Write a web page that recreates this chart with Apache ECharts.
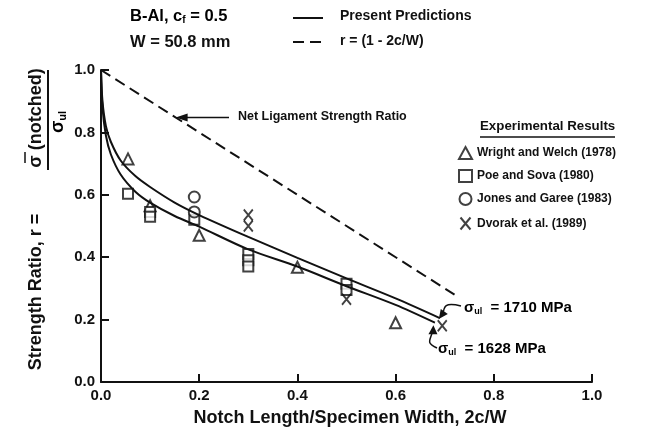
<!DOCTYPE html>
<html>
<head>
<meta charset="utf-8">
<title>Notch strength ratio</title>
<script src="https://cdn.jsdelivr.net/npm/echarts@6/dist/echarts.min.js"></script>
<style>body{margin:0;background:#fff}</style>
</head>
<body>
<div id="main" style="width:661px;height:432px;"></div>
<script>
// tick labels
var xTicks = [0, 0.2, 0.4, 0.6, 0.8, 1.0];
var yTicks = [0, 0.2, 0.4, 0.6, 0.8, 1.0];

// prediction curves, sigma_ul = 1710 and 1628 MPa
var curveX1710 = [0, 0.003, 0.01, 0.02, 0.04, 0.07, 0.1, 0.15, 0.2, 0.3, 0.4, 0.5, 0.6, 0.69];
var curveY1710 = [1.0, 0.9, 0.82, 0.77, 0.71, 0.66, 0.625, 0.575, 0.535, 0.465, 0.398, 0.332, 0.268, 0.205];
var curveX1628 = [0, 0.003, 0.01, 0.02, 0.04, 0.07, 0.1, 0.15, 0.2, 0.3, 0.4, 0.5, 0.6, 0.68];
var curveY1628 = [1.0, 0.88, 0.79, 0.73, 0.665, 0.61, 0.575, 0.532, 0.498, 0.425, 0.37, 0.307, 0.247, 0.19];

// net ligament line r = 1 - 2c/W
var netX = [0, 0.72];
var netY = [1.0, 0.28];

// experimental results
var wrightX = [0.055, 0.1, 0.2, 0.4, 0.6];
var wrightY = [0.715, 0.565, 0.47, 0.368, 0.19];
var poeX = [0.055, 0.1, 0.1, 0.19, 0.3, 0.3, 0.3, 0.5, 0.5];
var poeY = [0.603, 0.545, 0.53, 0.52, 0.41, 0.39, 0.37, 0.315, 0.295];
var jonesX = [0.19, 0.19];
var jonesY = [0.593, 0.545];
var dvorakX = [0.3, 0.3, 0.5, 0.695];
var dvorakY = [0.535, 0.5, 0.265, 0.18];

function pairs(xs, ys) { return xs.map(function (x, i) { return [x, ys[i]]; }); }

var FONT = 'Liberation Sans';
var black = '#111';

var chart = echarts.init(document.getElementById('main'));

var axisCommon = {
  type: 'value', min: 0, max: 1, interval: 0.2,
  axisLine: { show: true, lineStyle: { color: black, width: 2 } },
  axisTick: { show: true, inside: true, length: 8, lineStyle: { color: black, width: 2 } },
  splitLine: { show: false },
  axisLabel: { color: black, fontFamily: FONT, fontSize: 15, fontWeight: 'bold', margin: 6,
               formatter: function (v) { return v.toFixed(1); } }
};

var option = {
  animation: false,
  grid: { left: 101, right: 69, top: 70, bottom: 50 },
  xAxis: axisCommon,
  yAxis: axisCommon,
  legend: {
    // experimental results
    orient: 'vertical', left: 453, top: 141, itemGap: 9, itemWidth: 13, itemHeight: 12,
    data: ['Wright and Welch (1978)', 'Poe and Sova (1980)', 'Jones and Garee (1983)', 'Dvorak et al. (1989)'],
    textStyle: { fontFamily: FONT, fontSize: 12, fontWeight: 'bold', color: black }
  },
  series: [
    { name: 'r = (1 - 2c/W)', type: 'line', data: pairs(netX, netY), symbol: 'none',
      lineStyle: { color: black, width: 2, type: [11, 6] } },
    { name: 'Present Predictions', type: 'line', data: pairs(curveX1710, curveY1710), symbol: 'none', smooth: 0.3,
      lineStyle: { color: black, width: 2 } },
    { name: 'Present Predictions', type: 'line', data: pairs(curveX1628, curveY1628), symbol: 'none', smooth: 0.3,
      lineStyle: { color: black, width: 2 } },
    { name: 'Wright and Welch (1978)', type: 'scatter', data: pairs(wrightX, wrightY), symbol: 'triangle', symbolSize: 11,
      itemStyle: { color: '#fff', borderColor: black, borderWidth: 2 } },
    { name: 'Poe and Sova (1980)', type: 'scatter', data: pairs(poeX, poeY), symbol: 'rect', symbolSize: 10,
      itemStyle: { color: '#fff', borderColor: black, borderWidth: 2 } },
    { name: 'Jones and Garee (1983)', type: 'scatter', data: pairs(jonesX, jonesY), symbol: 'circle', symbolSize: 11,
      itemStyle: { color: '#fff', borderColor: black, borderWidth: 2 } },
    { name: 'Dvorak et al. (1989)', type: 'scatter', data: pairs(dvorakX, dvorakY),
      symbol: 'path://M0,0L10,12M10,0L0,12', symbolSize: [9, 11],
      itemStyle: { color: 'none', borderColor: black, borderWidth: 2 } }
  ]
};
chart.setOption(option);

// annotations placed from data coordinates
function px(x, y) { return chart.convertToPixel({ gridIndex: 0 }, [x, y]); }
var netHead = px(0.152, 0.848);
var up = px(0.69, 0.205);
var lo = px(0.675, 0.188);
var txt = { fontFamily: FONT, fontSize: 13, fontWeight: 'bold', fill: black };
var sig = {
  s: { fontFamily: FONT, fontSize: 15, fontWeight: 'bold', color: black },
  u: { fontFamily: FONT, fontSize: 9, fontWeight: 'bold', color: black, padding: [8, 0, 0, 0] }
};

chart.setOption({
  graphic: [
    // header notes
    { type: 'text', left: 130, top: 8, style: { text: '{a|B-Al, c}{b|f}{a| = 0.5}', rich: {
        a: { fontFamily: FONT, fontSize: 16.5, fontWeight: 'bold', color: black },
        b: { fontFamily: FONT, fontSize: 10, fontWeight: 'bold', color: black, padding: [8, 0, 0, 0] } } } },
    { type: 'text', left: 130, top: 34, style: Object.assign({}, txt, { text: 'W = 50.8 mm', fontSize: 16.5 }) },
    { type: 'line', shape: { x1: 293, y1: 18, x2: 323, y2: 18 }, style: { stroke: black, lineWidth: 2 } },
    { type: 'line', shape: { x1: 293, y1: 42, x2: 323, y2: 42 }, style: { stroke: black, lineWidth: 2, lineDash: [11, 6] } },
    { type: 'text', left: 340, top: 9, style: Object.assign({}, txt, { text: 'Present Predictions', fontSize: 14 }) },
    { type: 'text', left: 340, top: 34, style: Object.assign({}, txt, { text: 'r = (1 - 2c/W)', fontSize: 14 }) },
    // y title
    { type: 'text', x: 36, y: 292, rotation: Math.PI / 2,
      style: Object.assign({}, txt, { text: 'Strength Ratio, r =', fontSize: 18, align: 'center', verticalAlign: 'middle' }) },
    { type: 'text', x: 36, y: 118, rotation: Math.PI / 2,
      style: Object.assign({}, txt, { text: 'σ (notched)', fontSize: 18, align: 'center', verticalAlign: 'middle' }) },
    { type: 'line', shape: { x1: 25, y1: 152, x2: 25, y2: 163 }, style: { stroke: black, lineWidth: 1.5 } },
    { type: 'line', shape: { x1: 48, y1: 70, x2: 48, y2: 170 }, style: { stroke: black, lineWidth: 2 } },
    { type: 'text', x: 58, y: 122, rotation: Math.PI / 2,
      style: { text: '{s|σ}{u|ul}', rich: { s: { fontFamily: FONT, fontSize: 18, fontWeight: 'bold', color: black },
        u: { fontFamily: FONT, fontSize: 11, fontWeight: 'bold', color: black, padding: [9, 0, 0, 0] } },
        align: 'center', verticalAlign: 'middle' } },
    // x title
    { type: 'text', x: 350, y: 418, style: Object.assign({}, txt, { text: 'Notch Length/Specimen Width, 2c/W', fontSize: 18,
        align: 'center', verticalAlign: 'middle' }) },
    // net ligament note
    { type: 'text', left: 238, top: 110, style: Object.assign({}, txt, { text: 'Net Ligament Strength Ratio', fontSize: 12.5 }) },
    { type: 'line', shape: { x1: 229, y1: netHead[1], x2: netHead[0] + 6, y2: netHead[1] }, style: { stroke: black, lineWidth: 1.5 } },
    { type: 'polygon', shape: { points: [[netHead[0], netHead[1]], [netHead[0] + 12, netHead[1] - 4], [netHead[0] + 12, netHead[1] + 4]] },
      style: { fill: black } },
    // experimental results title
    { type: 'text', left: 480, top: 120, style: Object.assign({}, txt, { text: 'Experimental Results', fontSize: 13.3 }) },
    { type: 'line', shape: { x1: 480, y1: 137, x2: 615, y2: 137 }, style: { stroke: black, lineWidth: 1.5 } },
    // sigma_ul notes
    { type: 'text', left: 464, top: 300, style: { text: '{s|σ}{u|ul}{s|  = 1710 MPa}', rich: sig } },
    { type: 'bezierCurve', shape: { x1: 461, y1: 306, cpx1: 445, cpy1: 302, x2: up[0] + 3, y2: up[1] - 3, cpx2: up[0] + 4, cpy2: up[1] - 12 },
      style: { stroke: black, lineWidth: 1.5, fill: null } },
    { type: 'polygon', shape: { points: [[up[0] - 1, up[1] + 1], [up[0] + 1, up[1] - 9], [up[0] + 8, up[1] - 4]] }, style: { fill: black } },
    { type: 'text', left: 438, top: 341, style: { text: '{s|σ}{u|ul}{s|  = 1628 MPa}', rich: sig } },
    { type: 'bezierCurve', shape: { x1: 437, y1: 348, cpx1: 425, cpy1: 342, x2: lo[0] + 1, y2: lo[1] + 5, cpx2: lo[0] - 2, cpy2: lo[1] + 18 },
      style: { stroke: black, lineWidth: 1.5, fill: null } },
    { type: 'polygon', shape: { points: [[lo[0] + 1, lo[1] + 2], [lo[0] - 4, lo[1] + 11], [lo[0] + 5, lo[1] + 11]] }, style: { fill: black } }
  ]
});
</script>
</body>
</html>
